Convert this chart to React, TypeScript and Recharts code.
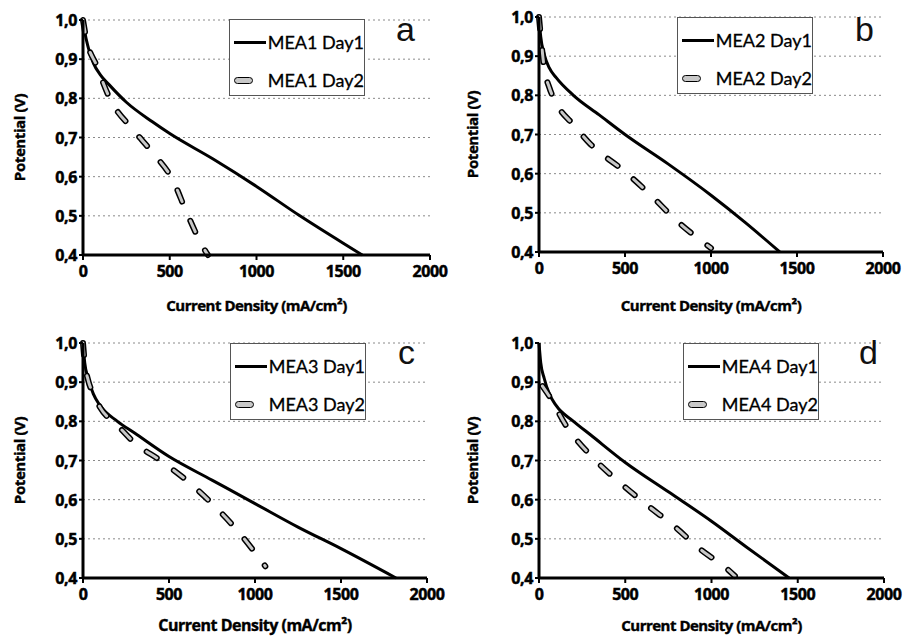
import { LineChart, Line, XAxis, YAxis, CartesianGrid, Legend } from "recharts";

// current density (mA/cm²) -> potential (V)
const mea1Day1 = [
  { j: 0, v: 1.0 }, { j: 10, v: 0.97 }, { j: 30, v: 0.93 }, { j: 60, v: 0.89 },
  { j: 100, v: 0.86 }, { j: 150, v: 0.835 }, { j: 250, v: 0.79 }, { j: 400, v: 0.74 },
  { j: 500, v: 0.71 }, { j: 750, v: 0.645 }, { j: 1000, v: 0.575 }, { j: 1250, v: 0.50 },
  { j: 1500, v: 0.43 }, { j: 1610, v: 0.40 },
];
const mea1Day2 = [
  { j: 0, v: 1.0 }, { j: 20, v: 0.95 }, { j: 77, v: 0.885 }, { j: 154, v: 0.80 },
  { j: 288, v: 0.72 }, { j: 404, v: 0.66 }, { j: 519, v: 0.59 }, { j: 596, v: 0.51 },
  { j: 692, v: 0.42 }, { j: 720, v: 0.40 },
];
const mea2Day1 = [
  { j: 0, v: 1.0 }, { j: 10, v: 0.95 }, { j: 30, v: 0.905 }, { j: 60, v: 0.87 },
  { j: 100, v: 0.845 }, { j: 200, v: 0.80 }, { j: 350, v: 0.75 }, { j: 500, v: 0.70 },
  { j: 750, v: 0.625 }, { j: 1000, v: 0.545 }, { j: 1200, v: 0.475 }, { j: 1400, v: 0.40 },
];
const mea2Day2 = [
  { j: 0, v: 1.0 }, { j: 15, v: 0.93 }, { j: 30, v: 0.87 }, { j: 60, v: 0.82 },
  { j: 100, v: 0.78 }, { j: 200, v: 0.725 }, { j: 300, v: 0.675 }, { j: 500, v: 0.605 },
  { j: 650, v: 0.545 }, { j: 800, v: 0.48 }, { j: 1000, v: 0.41 },
];
const mea3Day1 = [
  { j: 0, v: 1.0 }, { j: 10, v: 0.95 }, { j: 30, v: 0.91 }, { j: 60, v: 0.87 },
  { j: 100, v: 0.84 }, { j: 200, v: 0.80 }, { j: 300, v: 0.77 }, { j: 500, v: 0.71 },
  { j: 750, v: 0.65 }, { j: 1000, v: 0.59 }, { j: 1250, v: 0.53 }, { j: 1500, v: 0.475 },
  { j: 1820, v: 0.40 },
];
const mea3Day2 = [
  { j: 0, v: 1.0 }, { j: 10, v: 0.95 }, { j: 30, v: 0.905 }, { j: 60, v: 0.87 },
  { j: 100, v: 0.835 }, { j: 200, v: 0.79 }, { j: 300, v: 0.745 }, { j: 450, v: 0.70 },
  { j: 600, v: 0.65 }, { j: 750, v: 0.59 }, { j: 900, v: 0.52 }, { j: 1000, v: 0.465 },
  { j: 1060, v: 0.43 },
];
const mea4Day1 = [
  { j: 0, v: 1.0 }, { j: 10, v: 0.95 }, { j: 30, v: 0.91 }, { j: 60, v: 0.87 },
  { j: 100, v: 0.84 }, { j: 200, v: 0.80 }, { j: 300, v: 0.765 }, { j: 500, v: 0.695 },
  { j: 750, v: 0.62 }, { j: 1000, v: 0.545 }, { j: 1200, v: 0.48 }, { j: 1450, v: 0.40 },
];
const mea4Day2 = [
  { j: 20, v: 0.89 }, { j: 54, v: 0.868 }, { j: 160, v: 0.787 }, { j: 315, v: 0.706 },
  { j: 470, v: 0.643 }, { j: 624, v: 0.587 }, { j: 779, v: 0.534 }, { j: 933, v: 0.474 },
  { j: 1088, v: 0.424 }, { j: 1136, v: 0.405 },
];

const xTicks = [0, 500, 1000, 1500, 2000];
const yTicks = [0.4, 0.5, 0.6, 0.7, 0.8, 0.9, 1.0];
const letters = ["a", "b", "c", "d"];
const names = ["MEA1", "MEA2", "MEA3", "MEA4"];
const day1Sets = [mea1Day1, mea2Day1, mea3Day1, mea4Day1];
const day2Sets = [mea1Day2, mea2Day2, mea3Day2, mea4Day2];

// layout per panel (position of chart, plot margins, legend & letter place)
const layout = [
  { x: 0, y: 0, yw: 83, mt: 20, mr: 23, xh: 65, lx: 229, ly: 19, tx: 396, ty: 12, xs: 15 },
  { x: 453, y: 0, yw: 86, mt: 17, mr: 23, xh: 68, lx: 224, ly: 17, tx: 402, ty: 12, xs: 15 },
  { x: 0, y: 320, yw: 83, mt: 23, mr: 26, xh: 62, lx: 230, ly: 23, tx: 398, ty: 15, xs: 16 },
  { x: 453, y: 320, yw: 86, mt: 23, mr: 22, xh: 62, lx: 230, ly: 23, tx: 406, ty: 15, xs: 15 },
];

const W = 453;
const H = 320;
const font = "Lato, 'Open Sans', sans-serif";
const boldFont = "'Open Sans', Lato, sans-serif";
const tickStyle = {
  fontFamily: boldFont,
  fontWeight: 700,
  fontSize: 16,
  fill: "#000",
  stroke: "#000",
  strokeWidth: 0.5,
  letterSpacing: -0.4,
};

const fmt = (v: number) => v.toFixed(1).replace(".", ",");

const renderXTick = (props: any) => (
  <text x={props.x} y={props.y + 14} textAnchor="middle" style={tickStyle}>
    {props.payload.value}
  </text>
);

const renderYTick = (props: any) => (
  <text x={props.x} y={props.y + 6} textAnchor="end" style={tickStyle}>
    {fmt(props.payload.value)}
  </text>
);

function LegendBox({ payload }: any) {
  const items = (payload || []).map((p: any) => p.value).filter((n: string) => n !== "outline");
  return (
    <div
      style={{
        border: "1px solid #555",
        background: "#fff",
        width: 136,
        height: 77,
        boxSizing: "border-box",
        fontFamily: font,
        fontSize: 18,
        color: "#000",
        padding: "7px 0 0 4px",
      }}
    >
      {items.map((name: string, i: number) => (
        <div key={name} style={{ display: "flex", alignItems: "center", height: 30, marginBottom: i === 0 ? 8 : 0 }}>
          <div style={{ width: 34, display: "flex", alignItems: "center" }}>
            {i === 0 ? (
              <div style={{ width: 32, height: 3, background: "#000" }} />
            ) : (
              <div
                style={{
                  width: 17,
                  height: 5,
                  background: "#c8c8c8",
                  border: "1.5px solid #000",
                  borderRadius: 4,
                }}
              />
            )}
          </div>
          <span style={{ whiteSpace: "nowrap", WebkitTextStroke: "0.3px #000" }}>{name}</span>
        </div>
      ))}
    </div>
  );
}

function Panel({ idx }: { idx: number }) {
  const l = layout[idx];
  return (
    <div style={{ position: "absolute", left: l.x, top: l.y, width: W, height: H }}>
      <LineChart width={W} height={H} margin={{ top: l.mt, right: l.mr, left: 0, bottom: 0 }}>
        <CartesianGrid vertical={false} stroke="#8a8a8a" strokeDasharray="2 3" />
        <XAxis
          type="number"
          dataKey="j"
          domain={[0, 2000]}
          ticks={xTicks}
          height={l.xh}
          tick={renderXTick}
          tickSize={5}
          tickMargin={3}
          axisLine={{ stroke: "#000", strokeWidth: 3 }}
          tickLine={{ stroke: "#000", strokeWidth: 2 }}
          label={{
            value: "Current Density (mA/cm²)",
            position: "insideBottom",
            offset: 9,
            style: {
              fontFamily: boldFont,
              fontWeight: 700,
              fontSize: l.xs,
              fill: "#000",
              stroke: "#000",
              strokeWidth: 0.4,
              letterSpacing: -0.5,
            },
          }}
        />
        <YAxis
          type="number"
          domain={[0.4, 1.0]}
          ticks={yTicks}
          width={l.yw}
          tick={renderYTick}
          tickSize={4}
          tickMargin={2}
          axisLine={{ stroke: "#000", strokeWidth: 3 }}
          tickLine={{ stroke: "#000", strokeWidth: 2 }}
          label={{
            value: "Potential (V)",
            angle: -90,
            position: "insideLeft",
            offset: 20,
            style: {
              textAnchor: "middle",
              fontFamily: boldFont,
              fontWeight: 700,
              fontSize: 15,
              fill: "#000",
              stroke: "#000",
              strokeWidth: 0.4,
              letterSpacing: -0.4,
            },
          }}
        />
        <Legend
          layout="vertical"
          align="center"
          verticalAlign="middle"
          wrapperStyle={{ left: l.lx, top: l.ly, width: "auto", height: "auto" }}
          content={<LegendBox />}
        />
        <Line
          data={day1Sets[idx]}
          dataKey="v"
          name={`${names[idx]} Day1`}
          type="monotone"
          stroke="#000"
          strokeWidth={3}
          dot={false}
          isAnimationActive={false}
        />
        <Line
          data={day2Sets[idx]}
          dataKey="v"
          name="outline"
          legendType="none"
          type="monotone"
          stroke="#000"
          strokeWidth={6}
          strokeDasharray="12 21"
          strokeLinecap="round"
          dot={false}
          isAnimationActive={false}
        />
        <Line
          data={day2Sets[idx]}
          dataKey="v"
          name={`${names[idx]} Day2`}
          type="monotone"
          stroke="#c8c8c8"
          strokeWidth={3}
          strokeDasharray="12 21"
          strokeLinecap="round"
          dot={false}
          isAnimationActive={false}
        />
      </LineChart>
      <div
        style={{
          position: "absolute",
          left: l.tx,
          top: l.ty,
          fontFamily: "'Liberation Sans', Arial, sans-serif",
          fontSize: 34,
          color: "#111",
          lineHeight: 1,
        }}
      >
        {letters[idx]}
      </div>
    </div>
  );
}

export default function App() {
  return (
    <div style={{ position: "absolute", left: 0, top: 0, width: 907, height: 639, background: "#fff" }}>
      {[0, 1, 2, 3].map((i) => (
        <Panel key={i} idx={i} />
      ))}
    </div>
  );
}
